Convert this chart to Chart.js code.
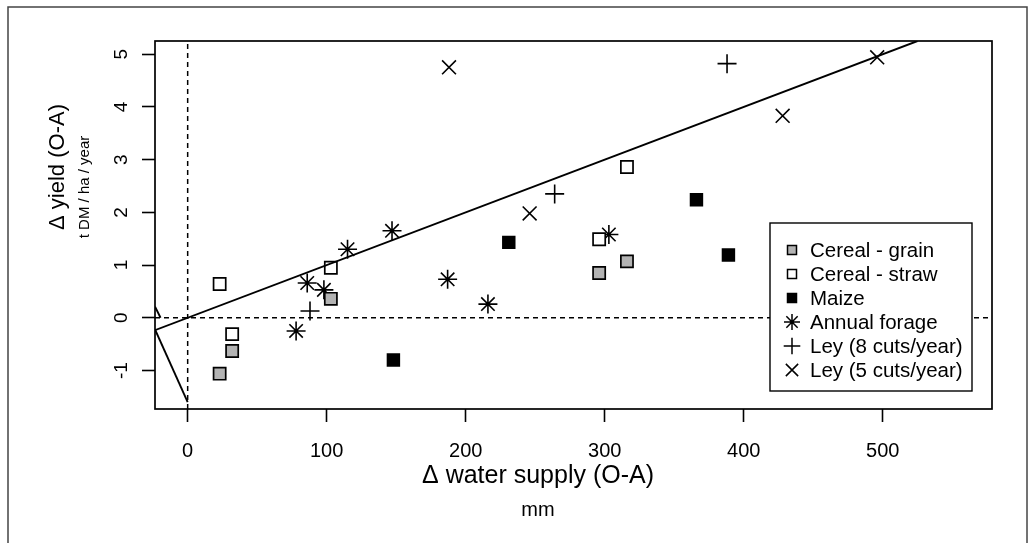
<!DOCTYPE html>
<html>
<head>
<meta charset="utf-8">
<script src="https://cdn.jsdelivr.net/npm/chart.js@4.4.1/dist/chart.umd.min.js"></script>
<style>
  body { margin: 0; background: #fff; }
  canvas { display: block; }
</style>
</head>
<body>
<canvas id="yieldChart" width="1030" height="543"></canvas>
<script>
'use strict'

// values (x = delta water supply mm, y = delta yield t DM/ha/year)
const grainWater = [23, 32, 103, 296, 316];
const grainYield = [-1.06, -0.63, 0.36, 0.85, 1.07];

const strawWater = [23, 32, 103, 296, 316];
const strawYield = [0.64, -0.31, 0.95, 1.49, 2.86];

const maizeWater = [148, 231, 366, 389];
const maizeYield = [-0.80, 1.43, 2.24, 1.19];

const forageWater = [78, 86, 98, 115, 147, 187, 216, 303];
const forageYield = [-0.25, 0.66, 0.53, 1.30, 1.65, 0.73, 0.26, 1.58];

const ley8Water = [88, 264, 388];
const ley8Yield = [0.13, 2.35, 4.82];

const ley5Water = [188, 246, 428, 496];
const ley5Yield = [4.75, 1.98, 3.83, 4.94];

// fitted line and the two odd stray segments at the left edge
const fitX = [-23.5, 525];
const fitY = [-0.235, 5.25];
const strayAX = [-23.5, 0];
const strayAY = [-0.22, -1.6];
const strayBX = [-23.5, -19.5];
const strayBY = [0.21, 0.0];

const xLimits = [-23.5, 578.6];
const yLimits = [-1.73, 5.25];
const xTicks = [0, 100, 200, 300, 400, 500];
const yTicks = [-1, 0, 1, 2, 3, 4, 5];

const legendNames = ['Cereal - grain', 'Cereal - straw', 'Maize', 'Annual forage', 'Ley (8 cuts/year)', 'Ley (5 cuts/year)'];

const FONT = '"Liberation Sans", Arial, sans-serif';

const pts = (xs, ys) => xs.map((x, i) => ({ x: x, y: ys[i] }));

const lineSet = (xs, ys, dash) => ({
  type: 'line',
  data: pts(xs, ys),
  showLine: true,
  borderColor: '#000',
  borderWidth: dash ? 1.5 : 1.9,
  borderDash: dash ? [5, 4] : [],
  pointRadius: 0,
  fill: false
});

const markerSet = (xs, ys, style, fill, radius) => ({
  data: pts(xs, ys),
  pointStyle: style,
  pointRadius: radius,
  pointBackgroundColor: fill,
  pointBorderColor: '#000',
  pointBorderWidth: style === 'rect' ? 1.7 : 1.6
});

// legend symbol drawing, done by hand so the box can sit inside the plot
function drawMark (ctx, style, fill, x, y, r) {
  ctx.save();
  ctx.strokeStyle = '#000';
  ctx.lineWidth = 1.5;
  ctx.beginPath();
  if (style === 'rect') {
    ctx.fillStyle = fill;
    ctx.rect(x - r, y - r, 2 * r, 2 * r);
    ctx.fill();
  }
  if (style === 'cross' || style === 'star') {
    ctx.moveTo(x - r, y); ctx.lineTo(x + r, y);
    ctx.moveTo(x, y - r); ctx.lineTo(x, y + r);
  }
  if (style === 'crossRot' || style === 'star') {
    const d = r * Math.SQRT1_2;
    ctx.moveTo(x - d, y - d); ctx.lineTo(x + d, y + d);
    ctx.moveTo(x - d, y + d); ctx.lineTo(x + d, y - d);
  }
  ctx.stroke();
  ctx.restore();
}

const legendMarks = [
  ['rect', '#b3b3b3', 4.5],
  ['rect', '#fff', 4.5],
  ['rect', '#000', 4.5],
  ['star', null, 8],
  ['cross', null, 8.3],
  ['crossRot', null, 8.7]
];

const decorations = {
  id: 'decorations',
  afterDatasetsDraw (chart) {
    const ctx = chart.ctx;
    const a = chart.chartArea;
    const ys = chart.scales.y;

    // plot box
    ctx.save();
    ctx.strokeStyle = '#000';
    ctx.lineWidth = 1.7;
    ctx.strokeRect(a.left, a.top, a.right - a.left, a.bottom - a.top);

    // outer frame (bottom edge falls off the picture)
    ctx.strokeStyle = '#444';
    ctx.lineWidth = 1.5;
    ctx.strokeRect(8, 7, 1019, 560);

    // y tick labels, parallel to the axis like in R
    ctx.fillStyle = '#000';
    ctx.font = '19px ' + FONT;
    ctx.textAlign = 'center';
    ctx.textBaseline = 'middle';
    yTicks.forEach(v => {
      ctx.save();
      ctx.translate(122, ys.getPixelForValue(v));
      ctx.rotate(-Math.PI / 2);
      ctx.fillText(String(v), 0, 0);
      ctx.restore();
    });

    // axis titles
    ctx.save();
    ctx.translate(58, 167);
    ctx.rotate(-Math.PI / 2);
    ctx.font = '22px ' + FONT;
    ctx.fillText('\u0394 yield (O-A)', 0, 0);
    ctx.restore();

    ctx.save();
    ctx.translate(85, 187);
    ctx.rotate(-Math.PI / 2);
    ctx.font = '15px ' + FONT;
    ctx.fillText('t DM / ha / year', 0, 0);
    ctx.restore();

    ctx.font = '25px ' + FONT;
    ctx.fillText('\u0394 water supply (O-A)', 538, 476);
    ctx.font = '20px ' + FONT;
    ctx.fillText('mm', 538, 510);

    // legend box
    const lx = a.right - 222;
    const ly = a.top + 182;
    ctx.fillStyle = '#fff';
    ctx.fillRect(lx, ly, 202, 168);
    ctx.strokeStyle = '#000';
    ctx.lineWidth = 1.4;
    ctx.strokeRect(lx, ly, 202, 168);

    ctx.fillStyle = '#000';
    ctx.font = '20.5px ' + FONT;
    ctx.textAlign = 'left';
    legendNames.forEach((name, i) => {
      const yy = ly + 27 + i * 24;
      const m = legendMarks[i];
      drawMark(ctx, m[0], m[1], lx + 22, yy, m[2]);
      ctx.fillText(name, lx + 40, yy + 1);
    });
    ctx.restore();
  }
};

const ctx = document.getElementById('yieldChart').getContext('2d');

const myChart = new Chart(ctx, {
  type: 'scatter',
  data: {
    datasets: [
      lineSet([0, 0], yLimits, true),
      lineSet(xLimits, [0, 0], true),
      lineSet(fitX, fitY, false),
      lineSet(strayAX, strayAY, false),
      lineSet(strayBX, strayBY, false),
      markerSet(grainWater, grainYield, 'rect', '#b3b3b3', 8.6),
      markerSet(strawWater, strawYield, 'rect', '#fff', 8.6),
      markerSet(maizeWater, maizeYield, 'rect', '#000', 8.3),
      markerSet(forageWater, forageYield, 'star', null, 9.5),
      markerSet(ley8Water, ley8Yield, 'cross', null, 9.5),
      markerSet(ley5Water, ley5Yield, 'crossRot', null, 9.8)
    ]
  },
  options: {
    responsive: false,
    animation: false,
    layout: { padding: { top: 41, right: 38, left: 0, bottom: 0 } },
    plugins: { legend: { display: false }, tooltip: { enabled: false } },
    scales: {
      x: {
        type: 'linear',
        min: xLimits[0],
        max: xLimits[1],
        afterBuildTicks: s => { s.ticks = xTicks.map(v => ({ value: v })); },
        afterFit: s => { s.height = 134; },
        border: { display: false },
        grid: { drawOnChartArea: false, drawTicks: true, tickLength: 13, tickColor: '#000', tickWidth: 1.6 },
        ticks: { color: '#000', font: { family: FONT, size: 20 }, padding: 17, maxRotation: 0 }
      },
      y: {
        type: 'linear',
        min: yLimits[0],
        max: yLimits[1],
        afterBuildTicks: s => { s.ticks = yTicks.map(v => ({ value: v })); },
        afterFit: s => { s.width = 155; },
        border: { display: false },
        grid: { drawOnChartArea: false, drawTicks: true, tickLength: 13, tickColor: '#000', tickWidth: 1.6 },
        ticks: { display: false }
      }
    }
  },
  plugins: [decorations]
});
</script>
</body>
</html>
